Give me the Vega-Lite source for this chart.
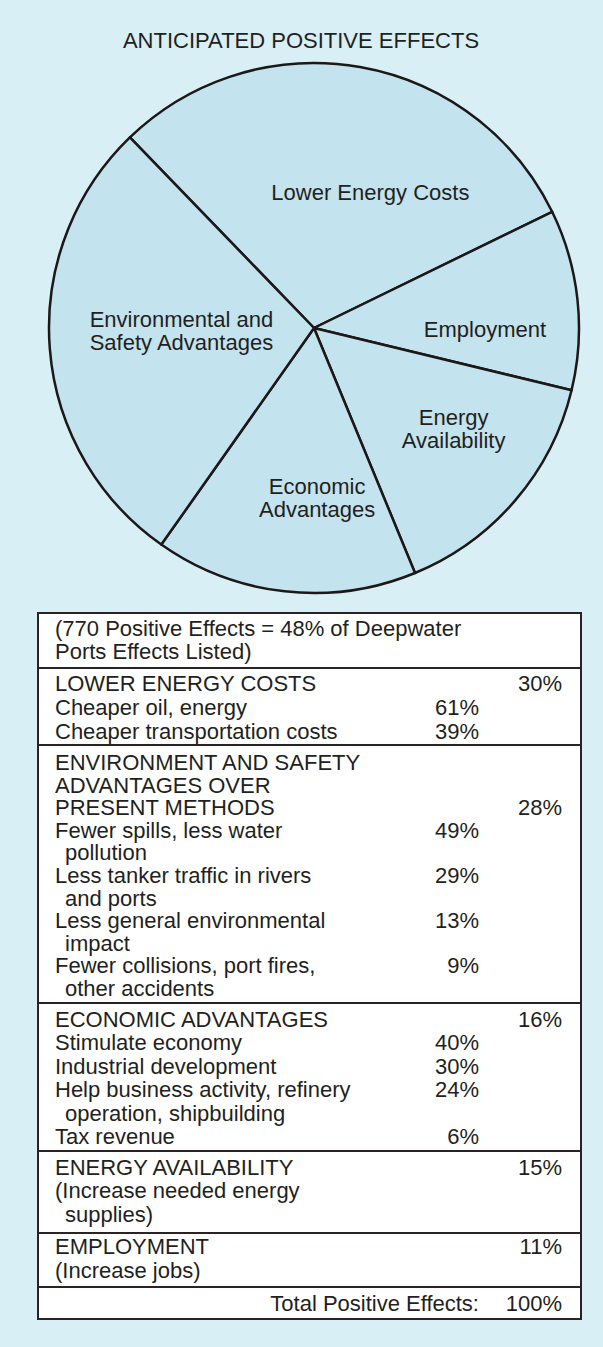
{
  "$schema": "https://vega.github.io/schema/vega-lite/v6.json",
  "background": "#d8eff6",
  "padding": {"left": 37, "top": 30, "right": 14, "bottom": 29},
  "bounds": "flush",
  "datasets": {
    "pie": [
      {"ord": 1, "effect": "Lower Energy Costs", "pct": 30},
      {"ord": 2, "effect": "Employment", "pct": 11},
      {"ord": 3, "effect": "Energy\nAvailability", "pct": 15},
      {"ord": 4, "effect": "Economic\nAdvantages", "pct": 16},
      {"ord": 5, "effect": "Environmental and\nSafety Advantages", "pct": 28}
    ],
    "table": [
      {"sec": 1, "line": 1, "lvl": 0, "label": "(770 Positive Effects = 48% of Deepwater"},
      {"sec": 1, "line": 2, "lvl": 0, "label": "Ports Effects Listed)"},
      {"sec": 2, "line": 1, "lvl": 0, "label": "LOWER ENERGY COSTS", "total": 0.30},
      {"sec": 2, "line": 2, "lvl": 0, "label": "Cheaper oil, energy", "sub": 0.61},
      {"sec": 2, "line": 3, "lvl": 0, "label": "Cheaper transportation costs", "sub": 0.39},
      {"sec": 3, "line": 1, "lvl": 0, "label": "ENVIRONMENT AND SAFETY"},
      {"sec": 3, "line": 2, "lvl": 0, "label": "ADVANTAGES OVER"},
      {"sec": 3, "line": 3, "lvl": 0, "label": "PRESENT METHODS", "total": 0.28},
      {"sec": 3, "line": 4, "lvl": 0, "label": "Fewer spills, less water", "sub": 0.49},
      {"sec": 3, "line": 5, "lvl": 1, "label": "pollution"},
      {"sec": 3, "line": 6, "lvl": 0, "label": "Less tanker traffic in rivers", "sub": 0.29},
      {"sec": 3, "line": 7, "lvl": 1, "label": "and ports"},
      {"sec": 3, "line": 8, "lvl": 0, "label": "Less general environmental", "sub": 0.13},
      {"sec": 3, "line": 9, "lvl": 1, "label": "impact"},
      {"sec": 3, "line": 10, "lvl": 0, "label": "Fewer collisions, port fires,", "sub": 0.09},
      {"sec": 3, "line": 11, "lvl": 1, "label": "other accidents"},
      {"sec": 4, "line": 1, "lvl": 0, "label": "ECONOMIC ADVANTAGES", "total": 0.16},
      {"sec": 4, "line": 2, "lvl": 0, "label": "Stimulate economy", "sub": 0.40},
      {"sec": 4, "line": 3, "lvl": 0, "label": "Industrial development", "sub": 0.30},
      {"sec": 4, "line": 4, "lvl": 0, "label": "Help business activity, refinery", "sub": 0.24},
      {"sec": 4, "line": 5, "lvl": 1, "label": "operation, shipbuilding"},
      {"sec": 4, "line": 6, "lvl": 0, "label": "Tax revenue", "sub": 0.06},
      {"sec": 5, "line": 1, "lvl": 0, "label": "ENERGY AVAILABILITY", "total": 0.15},
      {"sec": 5, "line": 2, "lvl": 0, "label": "(Increase needed energy"},
      {"sec": 5, "line": 3, "lvl": 1, "label": "supplies)"},
      {"sec": 6, "line": 1, "lvl": 0, "label": "EMPLOYMENT", "total": 0.11},
      {"sec": 6, "line": 2, "lvl": 0, "label": "(Increase jobs)"},
      {"sec": 7, "line": 1, "lvl": 2, "label": "Total Positive Effects:", "total": 1.00}
    ]
  },
  "config": {
    "font": "Liberation Sans",
    "view": {"stroke": null},
    "text": {"font": "Liberation Sans", "fontSize": 22, "color": "#231f20"},
    "title": {"font": "Liberation Sans", "fontSize": 22, "fontWeight": "normal", "color": "#231f20"}
  },
  "spacing": 18,
  "vconcat": [
    {
      "width": 552,
      "height": 534,
      "title": {"text": "ANTICIPATED POSITIVE EFFECTS", "offset": 8, "dx": -13},
      "data": {"name": "pie"},
      "encoding": {
        "theta": {"field": "pct", "type": "quantitative", "stack": true, "scale": {"range": [-0.768, 5.515]}},
        "order": {"field": "ord", "type": "quantitative"}
      },
      "layer": [
        {"mark": {"type": "arc", "outerRadius": 265, "fill": "#c3e3ee", "stroke": "#1c1818", "strokeWidth": 2.5, "strokeJoin": "round"}},
        {"mark": {"type": "text", "radius": 146, "dx": 31, "dy": 9, "lineBreak": "\n", "lineHeight": 23, "align": "center", "baseline": "middle"},
         "encoding": {"text": {"condition": {"test": "datum.ord === 1", "field": "effect"}, "value": ""}}},
        {"mark": {"type": "text", "radius": 171, "dx": 1, "dy": 20, "lineBreak": "\n", "lineHeight": 23, "align": "center", "baseline": "middle"},
         "encoding": {"text": {"condition": {"test": "datum.ord === 2", "field": "effect"}, "value": ""}}},
        {"mark": {"type": "text", "radius": 172, "dx": 9, "dy": -22, "lineBreak": "\n", "lineHeight": 23, "align": "center", "baseline": "middle"},
         "encoding": {"text": {"condition": {"test": "datum.ord === 3", "field": "effect"}, "value": ""}}},
        {"mark": {"type": "text", "radius": 170, "dx": 22, "dy": -10, "lineBreak": "\n", "lineHeight": 23, "align": "center", "baseline": "middle"},
         "encoding": {"text": {"condition": {"test": "datum.ord === 4", "field": "effect"}, "value": ""}}},
        {"mark": {"type": "text", "radius": 133, "dx": 0, "dy": -18, "lineBreak": "\n", "lineHeight": 23, "align": "center", "baseline": "middle"},
         "encoding": {"text": {"condition": {"test": "datum.ord === 5", "field": "effect"}, "value": ""}}}
      ]
    },
    {
      "spacing": 0,
      "bounds": "flush",
      "vconcat": [
        {
          "width": 543, "height": 55,
          "view": {"stroke": "#2b2323", "strokeWidth": 2, "fill": "#ffffff"},
          "data": {"name": "table"},
          "transform": [{"filter": "datum.sec === 1"}],
          "encoding": {"y": {"field": "line", "type": "quantitative", "axis": null, "scale": {"domain": [0.304, 2.695], "reverse": true, "nice": false, "zero": false}}},
          "layer": [
            {"mark": {"type": "text", "align": "left", "baseline": "middle"},
             "encoding": {"x": {"field": "lvl", "type": "quantitative", "axis": null, "scale": {"domain": [0, 1, 2, 3], "range": [17, 27, 441, 524], "nice": false, "zero": false}}, "text": {"field": "label"}}}
          ]
        },
        {
          "width": 543, "height": 77,
          "view": {"stroke": "#2b2323", "strokeWidth": 2, "fill": "#ffffff"},
          "data": {"name": "table"},
          "transform": [{"filter": "datum.sec === 2"}],
          "encoding": {"y": {"field": "line", "type": "quantitative", "axis": null, "scale": {"domain": [0.333, 3.541], "reverse": true, "nice": false, "zero": false}}},
          "layer": [
            {"mark": {"type": "text", "align": "left", "baseline": "middle"},
             "encoding": {"x": {"field": "lvl", "type": "quantitative", "axis": null, "scale": {"domain": [0, 1, 2, 3], "range": [17, 27, 441, 524], "nice": false, "zero": false}}, "text": {"field": "label"}}},
            {"transform": [{"filter": "isValid(datum.sub)"}], "mark": {"type": "text", "align": "right", "baseline": "middle"},
             "encoding": {"x": {"datum": 2, "type": "quantitative"}, "text": {"field": "sub", "type": "quantitative", "format": ".0%"}}},
            {"transform": [{"filter": "isValid(datum.total)"}], "mark": {"type": "text", "align": "right", "baseline": "middle"},
             "encoding": {"x": {"datum": 3, "type": "quantitative"}, "text": {"field": "total", "type": "quantitative", "format": ".0%"}}}
          ]
        },
        {
          "width": 543, "height": 258,
          "view": {"stroke": "#2b2323", "strokeWidth": 2, "fill": "#ffffff"},
          "data": {"name": "table"},
          "transform": [{"filter": "datum.sec === 3"}],
          "encoding": {"y": {"field": "line", "type": "quantitative", "axis": null, "scale": {"domain": [0.204, 11.62], "reverse": true, "nice": false, "zero": false}}},
          "layer": [
            {"mark": {"type": "text", "align": "left", "baseline": "middle"},
             "encoding": {"x": {"field": "lvl", "type": "quantitative", "axis": null, "scale": {"domain": [0, 1, 2, 3], "range": [17, 27, 441, 524], "nice": false, "zero": false}}, "text": {"field": "label"}}},
            {"transform": [{"filter": "isValid(datum.sub)"}], "mark": {"type": "text", "align": "right", "baseline": "middle"},
             "encoding": {"x": {"datum": 2, "type": "quantitative"}, "text": {"field": "sub", "type": "quantitative", "format": ".0%"}}},
            {"transform": [{"filter": "isValid(datum.total)"}], "mark": {"type": "text", "align": "right", "baseline": "middle"},
             "encoding": {"x": {"datum": 3, "type": "quantitative"}, "text": {"field": "total", "type": "quantitative", "format": ".0%"}}}
          ]
        },
        {
          "width": 543, "height": 148,
          "view": {"stroke": "#2b2323", "strokeWidth": 2, "fill": "#ffffff"},
          "data": {"name": "table"},
          "transform": [{"filter": "datum.sec === 4"}],
          "encoding": {"y": {"field": "line", "type": "quantitative", "axis": null, "scale": {"domain": [0.274, 6.599], "reverse": true, "nice": false, "zero": false}}},
          "layer": [
            {"mark": {"type": "text", "align": "left", "baseline": "middle"},
             "encoding": {"x": {"field": "lvl", "type": "quantitative", "axis": null, "scale": {"domain": [0, 1, 2, 3], "range": [17, 27, 441, 524], "nice": false, "zero": false}}, "text": {"field": "label"}}},
            {"transform": [{"filter": "isValid(datum.sub)"}], "mark": {"type": "text", "align": "right", "baseline": "middle"},
             "encoding": {"x": {"datum": 2, "type": "quantitative"}, "text": {"field": "sub", "type": "quantitative", "format": ".0%"}}},
            {"transform": [{"filter": "isValid(datum.total)"}], "mark": {"type": "text", "align": "right", "baseline": "middle"},
             "encoding": {"x": {"datum": 3, "type": "quantitative"}, "text": {"field": "total", "type": "quantitative", "format": ".0%"}}}
          ]
        },
        {
          "width": 543, "height": 82,
          "view": {"stroke": "#2b2323", "strokeWidth": 2, "fill": "#ffffff"},
          "data": {"name": "table"},
          "transform": [{"filter": "datum.sec === 5"}],
          "encoding": {"y": {"field": "line", "type": "quantitative", "axis": null, "scale": {"domain": [0.277, 3.766], "reverse": true, "nice": false, "zero": false}}},
          "layer": [
            {"mark": {"type": "text", "align": "left", "baseline": "middle"},
             "encoding": {"x": {"field": "lvl", "type": "quantitative", "axis": null, "scale": {"domain": [0, 1, 2, 3], "range": [17, 27, 441, 524], "nice": false, "zero": false}}, "text": {"field": "label"}}},
            {"transform": [{"filter": "isValid(datum.total)"}], "mark": {"type": "text", "align": "right", "baseline": "middle"},
             "encoding": {"x": {"datum": 3, "type": "quantitative"}, "text": {"field": "total", "type": "quantitative", "format": ".0%"}}}
          ]
        },
        {
          "width": 543, "height": 54,
          "view": {"stroke": "#2b2323", "strokeWidth": 2, "fill": "#ffffff"},
          "data": {"name": "table"},
          "transform": [{"filter": "datum.sec === 6"}],
          "encoding": {"y": {"field": "line", "type": "quantitative", "axis": null, "scale": {"domain": [0.417, 2.667], "reverse": true, "nice": false, "zero": false}}},
          "layer": [
            {"mark": {"type": "text", "align": "left", "baseline": "middle"},
             "encoding": {"x": {"field": "lvl", "type": "quantitative", "axis": null, "scale": {"domain": [0, 1, 2, 3], "range": [17, 27, 441, 524], "nice": false, "zero": false}}, "text": {"field": "label"}}},
            {"transform": [{"filter": "isValid(datum.total)"}], "mark": {"type": "text", "align": "right", "baseline": "middle"},
             "encoding": {"x": {"datum": 3, "type": "quantitative"}, "text": {"field": "total", "type": "quantitative", "format": ".0%"}}}
          ]
        },
        {
          "width": 543, "height": 32,
          "view": {"stroke": "#2b2323", "strokeWidth": 2, "fill": "#ffffff"},
          "data": {"name": "table"},
          "transform": [{"filter": "datum.sec === 7"}],
          "encoding": {"y": {"field": "line", "type": "quantitative", "axis": null, "scale": {"domain": [0.292, 1.625], "reverse": true, "nice": false, "zero": false}}},
          "layer": [
            {"mark": {"type": "text", "align": "right", "baseline": "middle"},
             "encoding": {"x": {"field": "lvl", "type": "quantitative", "axis": null, "scale": {"domain": [0, 1, 2, 3], "range": [17, 27, 441, 524], "nice": false, "zero": false}}, "text": {"field": "label"}}},
            {"mark": {"type": "text", "align": "right", "baseline": "middle"},
             "encoding": {"x": {"datum": 3, "type": "quantitative"}, "text": {"field": "total", "type": "quantitative", "format": ".0%"}}}
          ]
        }
      ]
    }
  ]
}
